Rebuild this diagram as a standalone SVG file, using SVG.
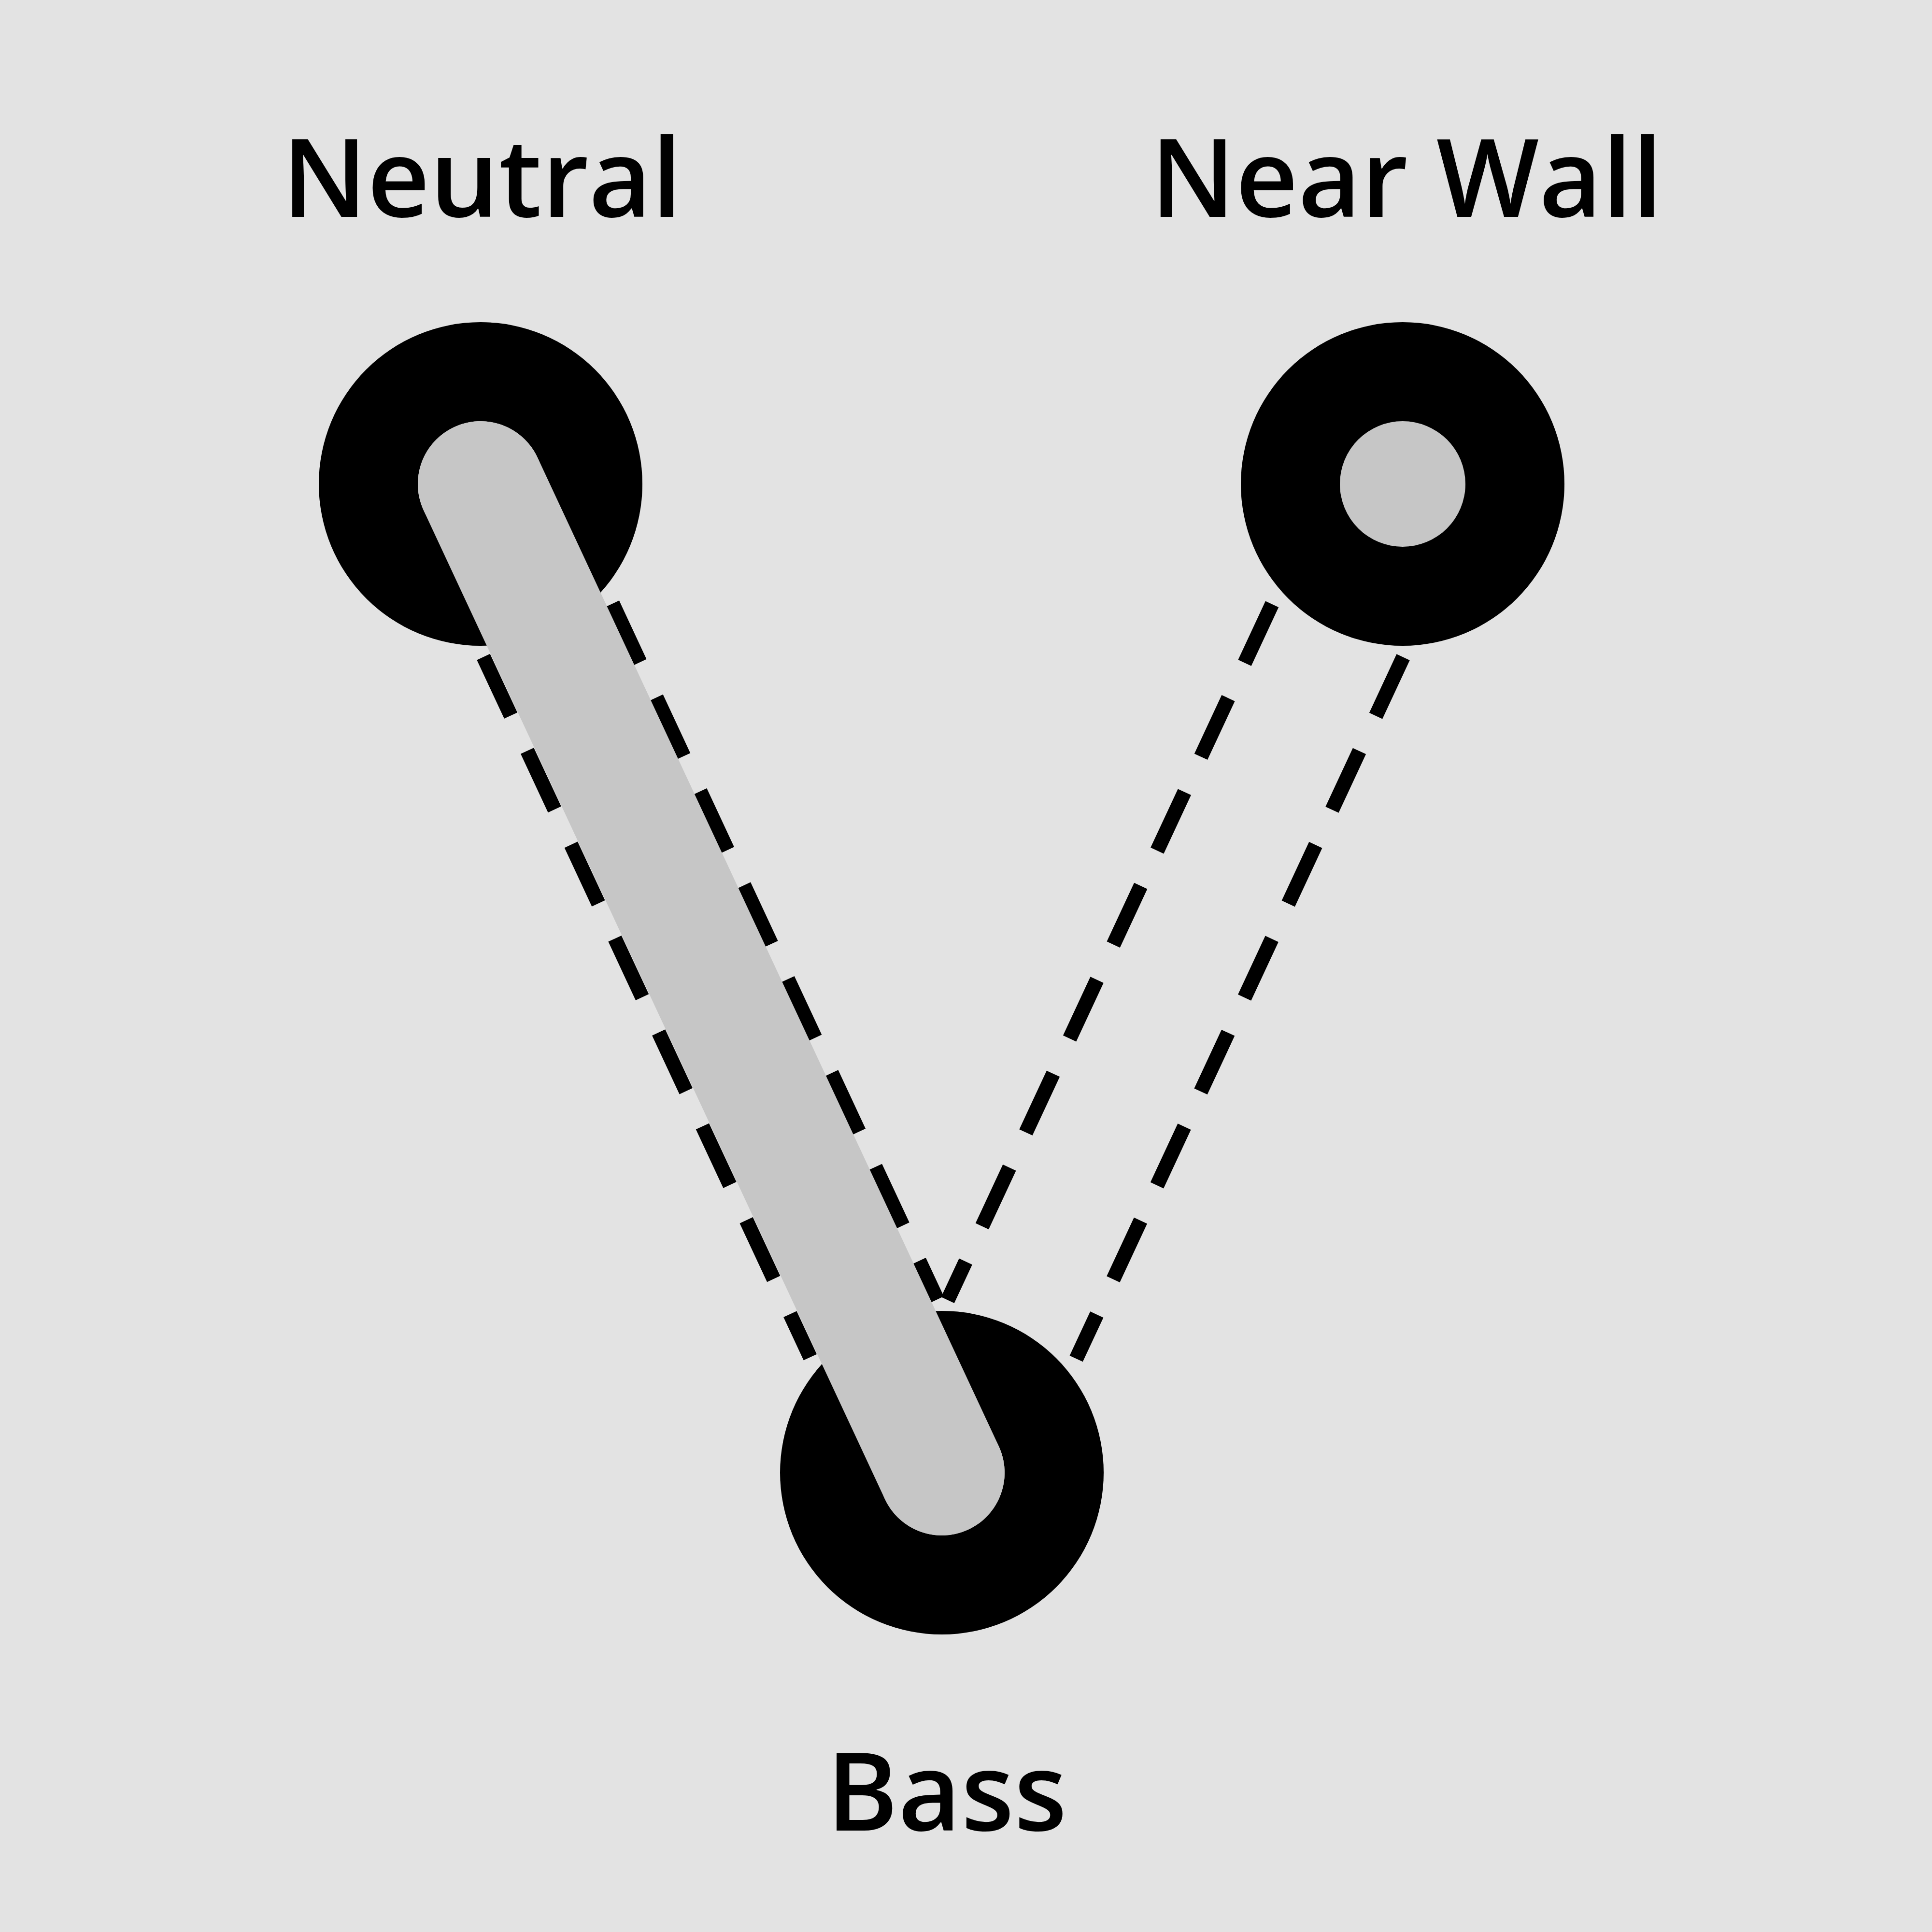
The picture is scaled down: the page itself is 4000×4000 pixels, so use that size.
<svg xmlns="http://www.w3.org/2000/svg" width="4000" height="4000" viewBox="0 0 4000 4000">
  <style>
    .outer { fill: #000000; }
    .inner { fill: #c6c6c6; }
    .label { font-family: "Open Sans", "Liberation Sans", sans-serif; font-weight: 600; font-size: 225px; fill: #000000; text-anchor: middle; }
    .dash { stroke: #000000; stroke-width: 30; stroke-dasharray: 134 80.5; stroke-linecap: butt; fill: none; }
    .active { stroke: #c6c6c6; stroke-width: 260; stroke-linecap: round; fill: none; }
  </style>
  <rect x="0" y="0" width="4000" height="4000" fill="#e3e3e3"/>
  <g id="node-neutral">
    <circle class="outer" cx="995" cy="1002" r="335"/>
    <circle class="inner" cx="995" cy="1002" r="130"/>
    <text class="label" x="998" y="449">Neutral</text>
  </g>
  <g id="node-near-wall">
    <circle class="outer" cx="2904" cy="1002" r="335"/>
    <circle class="inner" cx="2904" cy="1002" r="130"/>
    <text class="label" x="2912" y="449">Near Wall</text>
  </g>
  <g id="node-bass">
    <circle class="outer" cx="1950" cy="3049" r="335"/>
    <circle class="inner" cx="1950" cy="3049" r="130"/>
    <text class="label" x="1960" y="3790">Bass</text>
  </g>
  <g id="connectors">
    <line class="dash" x1="1000.9" y1="1360.1" x2="1677.4" y2="2810.0"/>
    <line class="dash" x1="1268.3" y1="1249.7" x2="1940.5" y2="2690.4"/>
    <line class="dash" x1="2633.6" y1="1250.9" x2="1962.1" y2="2691.7"/>
    <line class="dash" x1="2905.1" y1="1360.6" x2="2228.2" y2="2813.0"/>
    <line class="active" x1="995" y1="1002" x2="1950" y2="3049"/>
  </g>
</svg>
